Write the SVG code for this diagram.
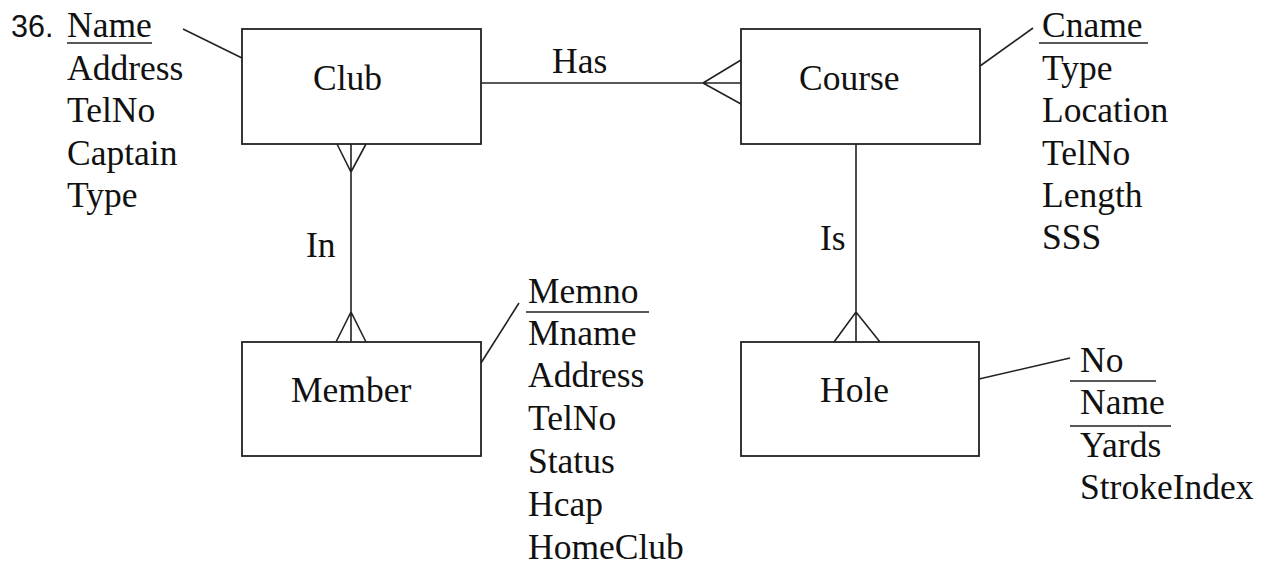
<svg xmlns="http://www.w3.org/2000/svg" width="1276" height="565" viewBox="0 0 1276 565">
<style>
.ent{fill:#fff;stroke:#222;stroke-width:1.8}
.ln{fill:none;stroke:#222;stroke-width:1.6}
.t{font-family:"Liberation Serif","Times New Roman",serif;font-size:35.5px;fill:#111}
.num{font-family:"Liberation Sans",Arial,sans-serif;font-size:30.5px;fill:#111}
</style>
<rect width="1276" height="565" fill="#fff"/>
<text class="num" x="11" y="37">36.</text>
<g id="connectors">
<path class="ln" d="M481 83 H741 M703 83 L741 60 M703 83 L741 104"/>
<path class="ln" d="M351 144 V342 M337 144 L351 172 L366 144 M336 342 L351 312 L366 342"/>
<path class="ln" d="M856 144 V342 M834 342 L856 312 L880 342"/>
<text class="t" x="552" y="73">Has</text>
<text class="t" x="306" y="257">In</text>
<text class="t" x="820" y="250">Is</text>
</g>
<g id="club">
<rect class="ent" x="242" y="29" width="239" height="115"/>
<text class="t" x="313" y="90">Club</text>
<path class="ln" d="M183 29 L242 58 M67 43 H152"/>
<text class="t" x="67" y="37">Name</text>
<text class="t" x="67" y="79.5">Address</text>
<text class="t" x="67" y="122">TelNo</text>
<text class="t" x="67" y="164.5">Captain</text>
<text class="t" x="67" y="207">Type</text>
</g>
<g id="course">
<rect class="ent" x="741" y="29" width="239" height="115"/>
<text class="t" x="799" y="90">Course</text>
<path class="ln" d="M980 66 L1033 28 M1039 43 H1148"/>
<text class="t" x="1042" y="37">Cname</text>
<text class="t" x="1042" y="79.5">Type</text>
<text class="t" x="1042" y="122">Location</text>
<text class="t" x="1042" y="164.5">TelNo</text>
<text class="t" x="1042" y="207">Length</text>
<text class="t" x="1042" y="249">SSS</text>
</g>
<g id="member">
<rect class="ent" x="242" y="342" width="239" height="114"/>
<text class="t" x="291" y="402">Member</text>
<path class="ln" d="M481 363 L519 303 M526 312 H649"/>
<text class="t" x="528" y="302.5">Memno</text>
<text class="t" x="528" y="344.5">Mname</text>
<text class="t" x="528" y="387">Address</text>
<text class="t" x="528" y="430">TelNo</text>
<text class="t" x="528" y="473">Status</text>
<text class="t" x="528" y="516">Hcap</text>
<text class="t" x="528" y="559">HomeClub</text>
</g>
<g id="hole">
<rect class="ent" x="741" y="342" width="238" height="114"/>
<text class="t" x="820" y="402">Hole</text>
<path class="ln" d="M979 379 L1070 358 M1070 381 H1156 M1070 426 H1171"/>
<text class="t" x="1080" y="372">No</text>
<text class="t" x="1080" y="414">Name</text>
<text class="t" x="1080" y="457">Yards</text>
<text class="t" x="1080" y="499">StrokeIndex</text>
</g>
</svg>
